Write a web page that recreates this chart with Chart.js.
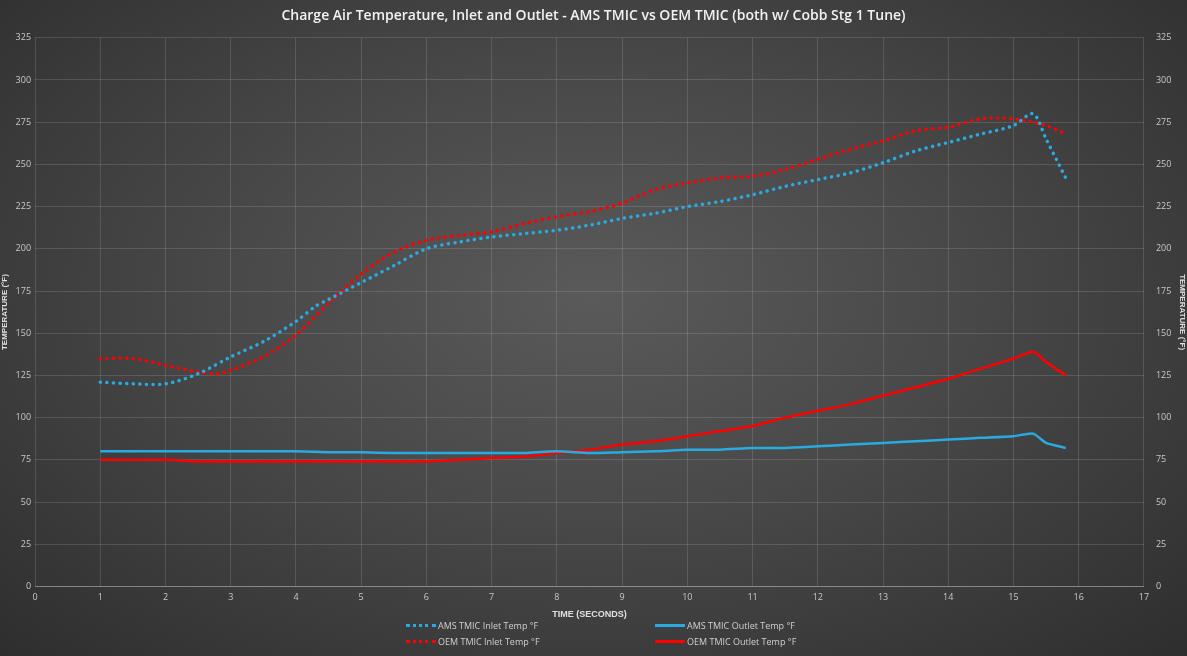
<!DOCTYPE html>
<html><head><meta charset="utf-8">
<script src="https://cdn.jsdelivr.net/npm/chart.js@4"></script>
<style>
html,body{margin:0;padding:0;width:1187px;height:656px;overflow:hidden;}
body{background:radial-gradient(ellipse at 50% 45%,#5a5a5a 0%,#484848 45%,#2e2e2e 100%);font-family:"Open Sans",Roboto,sans-serif;}
#wrap{position:absolute;left:0;top:0;width:1187px;height:656px;}
#legend{position:absolute;left:0;top:618px;width:1187px;font-size:9px;color:#d0d0d0;}
.item{position:absolute;display:flex;align-items:center;height:14px;}
.sw{width:30px;margin-right:2px;}
</style></head>
<body>
<div id="wrap"><canvas id="c" width="1187" height="656"></canvas></div>
<div id="legend"></div>
<script>
const amsInletX = [1,1.5,2,2.5,3,3.5,4,4.3,4.5,5,5.5,6,6.5,7,7.5,8,8.5,9,9.5,10,10.5,11,11.5,12,12.5,13,13.5,14,14.5,15,15.3,15.5,15.8];
const amsInlet  = [121,120,120,126,136,145,157,166,170,180,190,200,204,207,209,211,214,218,221,225,228,232,237,241,245,251,258,263,268,273,280,265,242];
const oemInletX = [1,1.5,2,2.5,2.8,3,3.5,4,4.5,5,5.5,6,6.5,7,7.5,8,8.5,9,9.5,10,10.5,11,11.5,12,12.5,13,13.5,14,14.5,15,15.5,15.8];
const oemInlet  = [135,135,131,127,126,128,136,149,168,185,198,205,208,210,215,219,222,227,235,239,242,243,247,253,259,264,270,272,277,277,273,268];
const outletX   = [1,1.5,2,2.5,3,3.5,4,4.5,5,5.5,6,6.5,7,7.5,8,8.5,9,9.5,10,10.5,11,11.5,12,12.5,13,13.5,14,14.5,15,15.3,15.5,15.8];
const amsOutlet = [80,80,80,80,80,80,80,79.5,79.5,79,79,79,79,79,80,79,79.5,80,81,81,82,82,83,84,85,86,87,88,89,90.5,85,82];
const oemOutlet = [75,75,75,74,74,74,74,74,74,74,74,75,76,77,79,81,84,86,89,92,95,100,104,108,113,118,123,129,135,139,133,125];
const xTicks = [0,1,2,3,4,5,6,7,8,9,10,11,12,13,14,15,16,17];
const yTicks = [0,25,50,75,100,125,150,175,200,225,250,275,300,325];
const names = ["AMS TMIC Inlet Temp °F","AMS TMIC Outlet Temp °F","OEM TMIC Inlet Temp °F","OEM TMIC Outlet Temp °F"];
const BLUE="#29aae1", RED="#ff0000";
const pts=(xs,ys)=>xs.map((x,i)=>({x,y:ys[i]}));
const dotted=c=>({borderColor:c,borderWidth:3.5,borderDash:[0.1,6.5],borderCapStyle:'round',pointRadius:0,tension:0.3,fill:false});
const solid=c=>({borderColor:c,borderWidth:2.5,pointRadius:0,tension:0.2,fill:false});
const tickFont={size:9,family:"Open Sans"};
const grid={color:'rgba(255,255,255,0.13)',drawTicks:false};
new Chart(document.getElementById('c'),{
 type:'line',
 data:{datasets:[
  Object.assign({label:names[0],data:pts(amsInletX,amsInlet)},dotted(BLUE)),
  Object.assign({label:names[1],data:pts(outletX,amsOutlet)},solid(BLUE)),
  Object.assign({label:names[2],data:pts(oemInletX,oemInlet)},dotted(RED)),
  Object.assign({label:names[3],data:pts(outletX,oemOutlet)},solid(RED))
 ]},
 options:{responsive:false,animation:false,
  layout:{padding:{left:0,right:0,top:0,bottom:32}},
  plugins:{legend:{display:false},tooltip:{enabled:false},
   title:{display:true,text:"Charge Air Temperature, Inlet and Outlet - AMS TMIC vs OEM TMIC (both w/ Cobb Stg 1 Tune)",color:'#f2f2f2',font:{size:14,weight:'600',family:"Open Sans"},padding:{top:8,bottom:13}}},
  scales:{
   x:{type:'linear',min:0,max:17,afterBuildTicks:a=>{a.ticks=xTicks.map(v=>({value:v}));},
      ticks:{color:'#c8c8c8',font:tickFont,padding:6},grid:grid,border:{color:'rgba(255,255,255,0.3)'},
      title:{display:true,text:'TIME (SECONDS)',color:'#e0e0e0',font:{size:9,weight:'bold'},padding:{top:0}}},
   y:{min:0,max:325,afterBuildTicks:a=>{a.ticks=yTicks.map(v=>({value:v}));},
      ticks:{color:'#c8c8c8',font:tickFont,padding:4},grid:grid,border:{display:false},
      title:{display:true,text:'TEMPERATURE (°F)',color:'#e0e0e0',font:{size:8,weight:'bold'},padding:{top:0,bottom:2}}},
   y2:{position:'right',min:0,max:325,afterBuildTicks:a=>{a.ticks=yTicks.map(v=>({value:v}));},
      ticks:{color:'#c8c8c8',font:tickFont,padding:4},grid:{display:false},border:{display:false},
      title:{display:true,text:'TEMPERATURE (°F)',color:'#e0e0e0',font:{size:8,weight:'bold'},padding:{top:0,bottom:2}}}
  }}
});
const lg=document.getElementById('legend');
const pos=[[406,0],[655,0],[406,16],[655,16]];
const cols=[BLUE,BLUE,RED,RED];
names.forEach((n,i)=>{
 const d=document.createElement('div');d.className='item';d.style.left=pos[i][0]+'px';d.style.top=pos[i][1]+'px';
 const s=document.createElement('div');s.className='sw';
 if(i%2===0){s.style.borderTop='3px dotted '+cols[i];}else{s.style.borderTop='3px solid '+cols[i];}
 d.appendChild(s);d.appendChild(document.createTextNode(n));lg.appendChild(d);
});
</script>
</body></html>
